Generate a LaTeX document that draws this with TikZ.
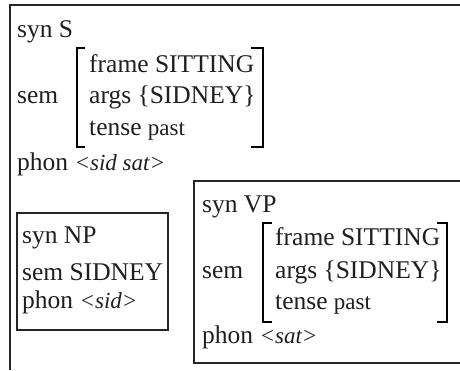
\documentclass[tikz,border=0pt]{standalone}
\usepackage{fontspec}
\setmainfont{Liberation Serif}
\newcommand\smallpart[1]{{\fontsize{23}{26}\selectfont #1}}
\newcommand\phonpart[1]{{\fontsize{23}{26}\selectfont\itshape #1}}
\begin{document}
\begin{tikzpicture}[x=1pt,y=-1pt,
  txt/.style={anchor=base west,inner sep=0pt,font=\fontsize{25.5}{30}\selectfont,text=black!88},
  brk/.style={line width=2.4pt,black},
  frame/.style={line width=1.6pt,black!85},
  box/.style={line width=1.1pt,black!85}]
\useasboundingbox (0,0) rectangle (460,370);
% outer frame (top and left only visible)
\draw[frame] (10,370) -- (10,5) -- (460,5);
% NP box
\draw[box] (17,213) rectangle (168,330);
% VP box (right side runs past the picture)
\draw[box] (461,181) -- (194,181) -- (194,363) -- (461,363);

% S structure
\node[txt] (s1) at (17,37) {syn S};
\node[txt] (s2) at (17,103) {sem};
\node[txt] (s3) at (89,72) {frame SITTING};
\node[txt] (s4) at (89,103) {args \{SIDNEY\}};
\node[txt] (s5) at (89,135) {tense \smallpart{past}};
\node[txt] (s6) at (17,170) {phon \phonpart{<sid sat>}};
\draw[brk] (85,48) -- (77,48) -- (77,147) -- (85,147);
\draw[brk] (251,48) -- (263,48) -- (263,147) -- (251,147);

% NP structure
\node[txt] (n1) at (22,243) {syn NP};
\node[txt] (n2) at (22,280) {sem SIDNEY};
\node[txt] (n3) at (22,308) {phon \phonpart{<sid>}};

% VP structure
\node[txt] (v1) at (202,212) {syn VP};
\node[txt] (v2) at (202,278) {sem};
\node[txt] (v3) at (275,245) {frame SITTING};
\node[txt] (v4) at (275,278) {args \{SIDNEY\}};
\node[txt] (v5) at (275,309) {tense \smallpart{past}};
\node[txt] (v6) at (202,343) {phon \phonpart{<sat>}};
\draw[brk] (272,223) -- (263,223) -- (263,322) -- (272,322);
\draw[brk] (437,223) -- (447,223) -- (447,322) -- (437,322);
\end{tikzpicture}
\end{document}
